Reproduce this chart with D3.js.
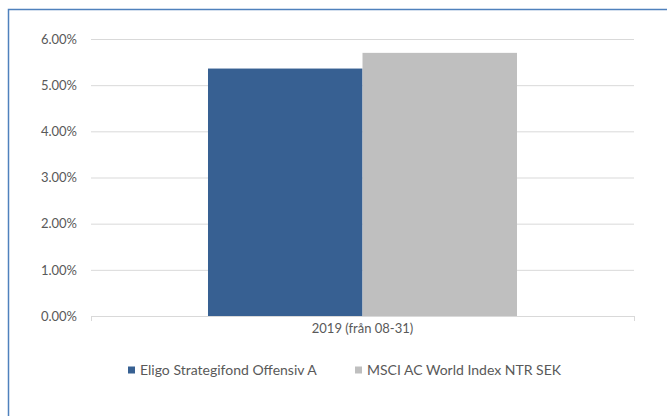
<!DOCTYPE html>
<html>
<head>
<meta charset="utf-8">
<script src="https://cdn.jsdelivr.net/npm/d3@7"></script>
<style>
  html, body { margin: 0; padding: 0; background: #fff; }
  svg { display: block; }
  text { font-family: "Lato", "Liberation Sans", sans-serif; fill: #595959; }
</style>
</head>
<body>
<svg id="chart" width="667" height="416"></svg>
<script>
const categories = ["2019 (från 08-31)"];
const seriesNames = ["Eligo Strategifond Offensiv A", "MSCI AC World Index NTR SEK"];
const seriesColors = ["#376092", "#BFBFBF"];
const fundValues = [0.0536];
const indexValues = [0.0570];
const yTicks = [0, 0.01, 0.02, 0.03, 0.04, 0.05, 0.06];

const svg = d3.select("#chart");
const plot = { left: 91, right: 634, top: 39, bottom: 316 };

// outer frame (cut off on right and bottom)
svg.append("rect")
  .attr("x", 8.5).attr("y", 9.5)
  .attr("width", 800).attr("height", 600)
  .attr("fill", "none")
  .attr("stroke", "#4F81BD")
  .attr("stroke-width", 1.5);

const y = d3.scaleLinear().domain([0, 0.06]).range([plot.bottom, plot.top]);
const x0 = d3.scaleBand().domain(categories).range([plot.left, plot.right])
  .paddingInner(0).paddingOuter(0.3786);
const x1 = d3.scaleBand().domain(seriesNames).range([0, x0.bandwidth()]).padding(0);

// gridlines + y labels
const yAxis = d3.axisLeft(y).tickValues(yTicks).tickFormat(d3.format(".2%"))
  .tickSize(-(plot.right - plot.left)).tickPadding(14);
const gy = svg.append("g").attr("transform", `translate(${plot.left},0)`).call(yAxis);
gy.select(".domain").remove();
gy.selectAll(".tick line").attr("stroke", "#D9D9D9").attr("stroke-width", 1);
gy.selectAll(".tick text").style("font-size", "13px").attr("fill", "#595959");

// bars
const data = categories.map((c, i) => ({ cat: c, vals: [fundValues[i], indexValues[i]] }));
const groups = svg.append("g").selectAll("g").data(data).join("g")
  .attr("transform", d => `translate(${x0(d.cat)},0)`);
groups.selectAll("rect").data(d => d.vals.map((v, j) => ({ v, s: seriesNames[j], j })))
  .join("rect")
  .attr("x", d => x1(d.s))
  .attr("y", d => y(d.v))
  .attr("width", x1.bandwidth())
  .attr("height", d => y(0) - y(d.v))
  .attr("fill", d => seriesColors[d.j]);

// x axis
const xAxis = d3.axisBottom(x0).tickSize(0).tickPadding(8);
const gx = svg.append("g").attr("transform", `translate(0,${plot.bottom})`).call(xAxis);
gx.select(".domain").attr("stroke", "#D9D9D9");
gx.selectAll(".tick text").style("font-size", "13px").attr("fill", "#595959");
// category boundary tick marks
const edges = [x0.range()[0], x0.range()[1]];
gx.selectAll(".edge").data(edges).join("line")
  .attr("class", "edge")
  .attr("x1", d => d + 0.5).attr("x2", d => d + 0.5)
  .attr("y1", 0).attr("y2", 5)
  .attr("stroke", "#D9D9D9");

// legend
const legendX = [128, 355];
const lg = svg.append("g").selectAll("g").data(seriesNames).join("g")
  .attr("transform", (d, i) => `translate(${legendX[i]},370.5)`);
lg.append("rect").attr("x", 0).attr("y", -4).attr("width", 7).attr("height", 7)
  .attr("fill", (d, i) => seriesColors[i]);
lg.append("text").attr("x", 12).attr("y", 0).attr("dy", "0.35em")
  .style("font-size", "14px").text(d => d);
</script>
</body>
</html>
